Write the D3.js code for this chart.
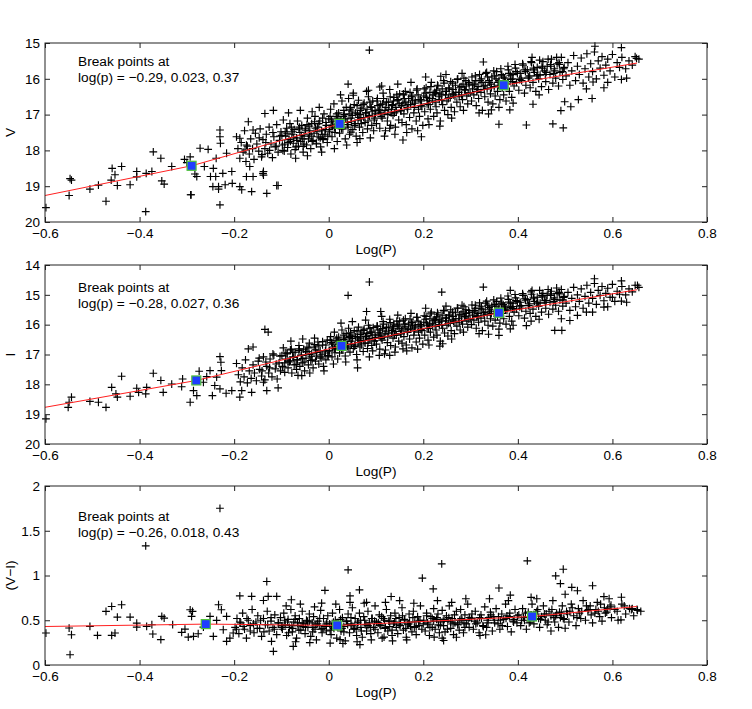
<!DOCTYPE html>
<html>
<head>
    <meta charset="utf-8">
    <title>Period-luminosity break points</title>
    <script src="https://cdn.jsdelivr.net/npm/d3@7"></script>
    <style>
        body {
            margin: 0;
            padding: 0;
            background-color: white;
        }

        svg text {
            font-family: "Liberation Sans", Arial, sans-serif;
            fill: black;
        }

        .tick text {
            font-size: 13.5px;
        }

        .note, .axis-label {
            font-size: 13.7px;
        }
    </style>
</head>
<body>
    <div id="chart"></div>

    <script>
        // ---- data: [log(P), value] ----
        const vPoints = [
            [-0.598,19.6],[-0.549,19.26],[-0.547,18.79],[-0.544,18.83],[-0.505,19.08],[-0.487,18.97],[-0.471,19.42],[-0.458,18.50],
            [-0.452,18.68],[-0.46,18.83],[-0.447,18.98],[-0.438,18.45],[-0.42,18.96],[-0.406,18.59],[-0.406,18.74],[-0.387,19.71],
            [-0.386,18.64],[-0.374,18.59],[-0.371,18.04],[-0.355,18.22],[-0.353,18.85],[-0.348,18.94],[-0.332,18.45],[-0.305,18.25],
            [-0.30,18.34],[-0.293,18.18],[-0.291,19.24],[-0.283,18.66],[-0.279,18.73],[-0.272,17.94],[-0.263,18.45],[-0.255,17.97],
            [-0.250,18.73],[-0.244,18.50],[-0.238,18.22],[-0.23,17.43],[-0.23,17.62],[-0.229,17.80],[-0.233,19.01],[-0.233,19.08],
            [-0.23,19.52],[-0.224,18.64],[-0.219,18.96],[-0.205,18.59],[-0.216,18.08],[-0.188,19.01],[-0.184,19.10],[-0.174,18.73],
            [-0.163,19.15],[-0.131,19.20],[-0.107,18.98],[-0.138,18.59],[-0.138,18.69],[-0.170,17.20],[-0.16,17.43],[-0.135,16.97],
            [-0.117,16.88],[-0.174,17.85],[-0.188,17.66],[-0.177,17.99],[-0.167,18.45],[-0.292,19.24],[-0.239,18.73],[-0.245,19.01],
            [-0.204,18.92],[-0.16,18.73],[-0.139,18.64],[-0.110,18.98],[-0.054,17.89],[-0.026,17.80],[-0.012,17.67],
            [0.041,16.15],[0.084,16.32],[0.108,16.23],[0.052,16.46],[0.129,17.38],[0.066,17.67],[0.047,17.49],[0.086,15.2],
            [0.563,15.09],[0.619,15.13],[0.327,15.53],[0.651,15.43],[0.432,16.71],[0.36,17.27],[0.418,17.29],[0.474,17.26],
            [0.496,17.37],[0.491,16.89],[0.499,16.64],[0.512,16.78],[0.528,16.58],[0.557,16.55],[0.582,16.25],[0.619,16.02],
            [0.383,16.87],[0.344,16.87],[0.196,17.62],[0.157,17.71],[0.237,15.93],[0.559,16.09],
            [-0.195,17.62],[-0.192,17.95],[-0.188,18.22],[-0.185,17.78],[-0.181,18.05],[-0.178,17.45],[-0.175,18.31],[-0.172,17.88],
            [-0.168,18.10],[-0.165,17.68],[-0.161,17.95],[-0.158,18.25],[-0.155,17.52],[-0.152,17.82],[-0.148,18.02],[-0.145,17.40],
            [-0.142,18.18],[-0.139,17.70],[-0.135,17.95],[-0.132,17.55],[-0.129,18.08],[-0.126,17.35],[-0.122,17.82],[-0.119,18.20],
            [-0.116,17.62],[-0.113,17.90],[-0.11,17.28],[-0.107,18.05],[-0.104,17.72],[-0.101,17.48],
            [-0.098,17.85],[-0.096,17.15],[-0.094,18.02],[-0.091,17.60],[-0.089,17.38],[-0.087,17.92],[-0.084,17.70],[-0.082,17.25],
            [-0.08,18.10],[-0.078,17.55],[-0.075,17.80],[-0.073,17.42],[-0.071,17.98],[-0.068,17.65],[-0.066,17.18],[-0.064,17.88],
            [-0.061,17.50],[-0.059,17.75],[-0.057,17.30],[-0.054,18.05],[-0.052,17.60],[-0.05,17.40],[-0.047,17.85],[-0.045,17.10],
            [-0.043,17.68],[-0.04,17.45],[-0.038,17.95],[-0.036,17.25],[-0.033,17.72],[-0.031,17.52],[-0.029,17.05],[-0.026,17.82],
            [-0.024,17.35],[-0.022,17.62],[-0.019,17.18],[-0.017,17.90],[-0.015,17.45],[-0.012,17.70],[-0.01,16.98],[-0.008,17.55],
            [-0.005,17.30],[-0.003,17.78],[0.0,17.12],[-0.085,16.95],[-0.06,16.88],[-0.035,16.92],[-0.02,16.80],[-0.07,18.22],
            [-0.045,18.15],[-0.015,18.05],
            [0.002,17.48],[0.004,16.85],[0.007,17.62],[0.009,17.20],[0.011,16.70],[0.014,17.38],[0.016,17.05],[0.018,17.75],
            [0.021,16.95],[0.023,17.52],[0.026,17.15],[0.028,16.62],[0.03,17.40],[0.033,17.00],[0.035,17.68],[0.037,16.80],
            [0.04,17.28],[0.042,16.55],[0.044,17.55],[0.047,17.10],[0.049,16.90],[0.051,17.42],[0.054,16.72],[0.056,17.25],
            [0.058,17.60],[0.061,16.98],[0.063,16.60],[0.065,17.35],[0.068,17.12],[0.07,16.82],[0.072,17.50],[0.075,16.68],
            [0.077,17.22],[0.079,16.95],[0.082,17.40],[0.084,16.50],[0.086,17.05],[0.089,16.78],[0.091,17.30],[0.093,16.62],
            [0.096,17.15],[0.098,16.88],[0.012,17.95],[0.038,17.85],[0.06,17.78],[0.088,17.65],[0.025,16.45],[0.052,16.40],
            [0.08,16.35],[0.005,17.30],[0.045,16.85],[0.066,17.00],[0.095,17.45],
            [0.101,17.25],[0.103,16.55],[0.106,16.90],[0.108,17.38],[0.11,16.72],[0.113,17.10],[0.115,16.40],[0.117,16.98],
            [0.12,17.45],[0.122,16.65],[0.124,17.18],[0.127,16.85],[0.129,16.30],[0.131,17.30],[0.134,16.75],[0.136,17.02],
            [0.138,16.52],[0.141,17.35],[0.143,16.92],[0.145,16.60],[0.148,17.15],[0.15,16.42],[0.152,16.88],[0.155,17.22],
            [0.157,16.68],[0.159,16.98],[0.162,16.35],[0.164,17.28],[0.166,16.80],[0.169,16.55],[0.171,17.08],[0.173,16.72],
            [0.176,17.40],[0.178,16.48],[0.18,16.95],[0.183,16.62],[0.185,17.18],[0.187,16.28],[0.19,16.85],[0.192,17.05],
            [0.194,16.58],[0.197,16.78],[0.199,17.30],[0.118,17.60],[0.14,17.55],[0.165,17.50],[0.188,17.45],[0.112,16.20],
            [0.146,16.15],[0.174,16.10],[0.132,16.95],[0.158,16.45],
            [0.201,16.48],[0.203,16.92],[0.206,16.25],[0.208,16.70],[0.21,17.12],[0.213,16.55],[0.215,16.85],[0.217,16.10],
            [0.22,16.62],[0.222,17.05],[0.224,16.38],[0.227,16.78],[0.229,16.95],[0.231,16.20],[0.234,16.58],[0.236,17.18],
            [0.238,16.45],[0.241,16.72],[0.243,16.05],[0.245,16.88],[0.248,16.35],[0.25,16.62],[0.252,17.00],[0.255,16.28],
            [0.257,16.52],[0.259,16.80],[0.262,16.12],[0.264,16.45],[0.266,16.92],[0.269,16.38],[0.271,16.65],[0.273,16.00],
            [0.276,16.50],[0.278,16.78],[0.28,16.22],[0.283,16.58],[0.285,16.88],[0.287,16.30],[0.29,16.05],[0.292,16.48],
            [0.294,16.70],[0.297,16.15],[0.299,16.40],[0.212,17.28],[0.235,17.32],[0.26,17.10],[0.205,15.95],[0.248,15.88],
            [0.282,15.85],[0.226,16.40],
            [0.302,16.62],[0.305,16.18],[0.307,16.45],[0.31,15.92],[0.312,16.75],[0.315,16.30],[0.317,16.55],[0.32,16.05],
            [0.322,16.38],[0.325,16.88],[0.327,16.20],[0.33,16.50],[0.332,15.85],[0.335,16.28],[0.337,16.65],[0.34,16.10],
            [0.342,16.42],[0.345,15.95],[0.347,16.70],[0.35,16.22],[0.352,16.48],[0.355,15.80],[0.357,16.35],[0.36,16.05],
            [0.362,16.58],[0.365,15.90],[0.367,16.25],[0.37,16.45],[0.372,15.98],[0.375,16.62],[0.377,16.15],[0.38,15.75],
            [0.382,16.35],[0.385,16.02],[0.387,16.52],[0.39,15.88],[0.392,16.20],[0.395,15.70],[0.397,16.10],[0.318,16.95],
            [0.338,16.98],[0.36,16.80],[0.39,16.68],
            [0.402,16.32],[0.405,15.85],[0.408,16.05],[0.411,15.62],[0.414,16.40],[0.417,16.18],[0.42,15.75],[0.423,15.95],
            [0.426,16.25],[0.429,15.55],[0.432,16.10],[0.435,15.82],[0.438,16.35],[0.441,15.68],[0.444,16.00],[0.447,15.90],
            [0.45,16.22],[0.453,15.52],[0.456,15.78],[0.459,16.08],[0.462,15.65],[0.465,16.30],[0.468,15.88],[0.471,15.45],
            [0.474,16.12],[0.477,15.72],[0.48,15.98],[0.483,15.58],[0.486,16.20],[0.489,15.82],[0.492,15.40],[0.495,16.02],
            [0.498,15.68],[0.445,16.45],[0.43,15.40],
            [0.502,15.92],[0.506,15.55],[0.51,16.18],[0.514,15.78],[0.518,15.35],[0.522,16.05],[0.526,15.65],[0.53,15.88],
            [0.534,15.42],[0.538,16.12],[0.542,15.72],[0.546,15.30],[0.55,15.95],[0.554,15.58],[0.558,15.80],[0.562,15.25],
            [0.566,16.00],[0.57,15.50],[0.574,15.70],[0.578,15.38],[0.582,15.90],[0.586,15.62],[0.59,15.45],[0.595,15.78],
            [0.6,15.32],[0.605,15.95],[0.61,15.55],[0.615,15.68],[0.62,15.40],[0.628,15.72],[0.635,15.50],[0.642,15.62],
            [0.648,15.38],[0.656,15.45],[0.545,16.28],[0.59,16.10],[0.63,15.98],
            [-0.147,17.65],[-0.141,18.12],[-0.133,17.78],[-0.125,18.00],[-0.118,17.50],[-0.111,17.88],[-0.103,17.60],[-0.097,18.00],
            [-0.092,17.48],[-0.086,17.78],[-0.079,17.35],[-0.074,17.65],[-0.069,17.90],[-0.063,17.40],[-0.058,17.58],[-0.052,17.82],
            [-0.046,17.28],[-0.041,17.55],[-0.035,17.75],[-0.03,17.20],[-0.025,17.48],[-0.018,17.65],[-0.013,17.10],[-0.007,17.42],
            [-0.002,17.60],[0.003,17.05],[0.008,17.30],[0.013,17.50],[0.017,16.98],[0.022,17.22],[0.027,17.40],[0.032,16.88],
            [0.036,17.12],[0.041,17.35],[0.046,16.80],[0.05,17.02],[0.055,17.30],[0.06,16.75],[0.064,17.08],[0.069,17.25],
            [0.073,16.72],[0.078,16.95],[0.083,17.18],[0.087,16.65],[0.092,16.92],[0.097,17.10],
            [0.102,16.62],[0.107,16.85],[0.111,17.05],[0.116,16.55],[0.121,16.80],[0.125,17.00],[0.13,16.50],[0.135,16.72],
            [0.139,16.95],[0.144,16.45],[0.149,16.70],[0.153,16.90],[0.158,16.42],[0.163,16.65],[0.167,16.85],[0.172,16.38],
            [0.177,16.60],[0.181,16.80],[0.186,16.32],[0.191,16.58],[0.195,16.75],
            [0.202,16.28],[0.207,16.52],[0.211,16.72],[0.216,16.22],[0.221,16.45],[0.225,16.65],[0.23,16.18],[0.235,16.40],
            [0.239,16.60],[0.244,16.12],[0.249,16.35],[0.253,16.55],[0.258,16.08],[0.263,16.30],[0.267,16.50],[0.272,16.02],
            [0.277,16.25],[0.281,16.45],[0.286,15.98],[0.291,16.20],[0.295,16.40],
            [0.303,15.95],[0.308,16.15],[0.313,16.35],[0.319,15.88],[0.324,16.10],[0.329,16.30],[0.334,15.82],[0.339,16.05],
            [0.344,16.25],[0.349,15.78],[0.354,16.00],[0.359,16.18],[0.364,15.72],[0.369,15.95],[0.374,16.12],[0.379,15.65],
            [0.384,15.90],[0.389,16.08],[0.394,15.60],[0.399,15.85],
            [0.404,16.02],[0.41,15.58],[0.416,15.80],[0.422,15.98],[0.428,15.52],[0.434,15.75],[0.44,15.92],[0.446,15.48],
            [0.452,15.70],[0.458,15.88],[0.464,15.45],[0.47,15.65],[0.476,15.85],[0.482,15.40],[0.488,15.60],[0.494,15.80],
            [-0.099,17.58],[-0.093,17.82],[-0.088,17.52],[-0.081,17.75],[-0.076,17.48],[-0.067,17.72],[-0.062,17.35],[-0.055,17.68],
            [-0.049,17.45],[-0.042,17.32],[-0.037,17.60],[-0.028,17.38],[-0.021,17.25],[-0.014,17.55],[-0.006,17.22],[0.001,17.42],
            [0.006,17.15],[0.012,17.35],[0.019,17.10],[0.024,17.30],[0.031,17.05],[0.039,17.22],[0.043,16.98],[0.048,17.20],
            [0.057,16.95],[0.062,17.15],[0.067,16.88],[0.074,17.08],[0.081,16.85],[0.085,17.02],[0.09,16.80],[0.099,16.98],
            [0.104,16.75],[0.109,16.95],[0.114,16.70],[0.119,16.88],[0.126,16.65],[0.133,16.85],[0.137,16.62],[0.142,16.80],
            [0.147,16.58],[0.154,16.75],[0.16,16.55],[0.168,16.72],[0.175,16.50],[0.182,16.68],[0.189,16.45],[0.196,16.62],
            [0.204,16.40],[0.209,16.60],[0.214,16.38],[0.219,16.55],[0.228,16.32],[0.233,16.50],[0.24,16.28],[0.247,16.45],
            [0.254,16.25],[0.261,16.42],[0.268,16.18],[0.275,16.38],[0.284,16.15],[0.289,16.32],[0.296,16.10],
            [0.304,16.28],[0.311,16.05],[0.316,16.22],[0.323,16.00],[0.331,16.18],[0.336,15.95],[0.343,16.15],[0.351,15.92],
            [0.358,16.10],[0.366,15.88],[0.373,16.05],[0.381,15.85],[0.388,16.00],[0.396,15.80],
            [0.407,15.98],[0.415,15.75],[0.425,15.92],[0.433,15.70],[0.442,15.88],[0.451,15.65],[0.46,15.82],[0.469,15.60],
            [0.478,15.78],[0.487,15.55],[0.497,15.72]
        ];

        const iPoints = [
            [-0.598,19.16],[-0.551,18.77],[-0.549,18.60],[-0.544,18.43],[-0.505,18.57],[-0.487,18.60],[-0.471,18.77],[-0.459,18.10],
            [-0.45,18.32],[-0.447,18.43],[-0.438,17.73],[-0.42,18.40],[-0.406,18.13],[-0.402,18.27],[-0.385,18.10],[-0.387,18.32],
            [-0.371,17.63],[-0.355,17.87],[-0.35,18.27],[-0.332,17.99],[-0.311,18.08],[-0.309,17.82],[-0.293,18.60],[-0.286,18.21],
            [-0.279,18.38],[-0.274,17.56],[-0.265,17.93],[-0.258,17.74],[-0.251,17.54],[-0.246,18.38],[-0.241,18.04],[-0.237,17.76],
            [-0.23,17.07],[-0.228,17.26],[-0.227,17.54],[-0.23,18.15],[-0.217,18.30],[-0.205,18.21],[-0.188,18.43],[-0.184,18.21],
            [-0.17,16.81],[-0.16,16.75],[-0.135,16.16],[-0.128,16.25],[-0.107,18.12],[-0.131,18.21],[-0.138,17.93],[-0.163,18.27],
            [0.041,15.02],[0.086,14.57],[0.08,15.56],[-0.057,17.71],[0.061,17.45],
            [0.110,15.56],[0.239,14.91],[0.327,14.74],[0.384,14.85],[0.562,14.46],[0.619,14.53],[0.653,14.68],[0.36,16.36],
            [0.384,16.14],[0.418,16.03],[0.428,15.88],[0.478,16.19],[0.493,16.19],[0.492,15.80],[0.51,15.86],[0.526,15.69],
            [0.558,15.58],[0.582,15.41],[0.619,15.21],[0.6,15.08],[0.241,16.64],[0.107,17.03],[0.129,17.03],[0.157,16.81],
            [-0.195,17.30],[-0.191,17.68],[-0.187,17.92],[-0.183,17.45],[-0.179,17.75],[-0.176,17.18],[-0.172,17.95],[-0.168,17.55],
            [-0.164,17.80],[-0.16,17.35],[-0.157,17.62],[-0.153,17.88],[-0.149,17.22],[-0.146,17.50],[-0.142,17.72],[-0.138,17.08],
            [-0.135,17.85],[-0.131,17.40],[-0.127,17.62],[-0.124,17.15],[-0.12,17.75],[-0.116,17.02],[-0.113,17.48],[-0.109,17.82],
            [-0.105,17.28],[-0.102,17.55],
            [-0.098,17.40],[-0.096,16.78],[-0.093,17.60],[-0.091,17.15],[-0.088,16.95],[-0.086,17.45],[-0.083,17.25],[-0.081,16.85],
            [-0.078,17.62],[-0.076,17.08],[-0.073,17.35],[-0.071,16.92],[-0.068,17.50],[-0.066,17.18],[-0.063,16.70],[-0.061,17.40],
            [-0.058,17.02],[-0.056,17.28],[-0.053,16.82],[-0.051,17.55],[-0.048,17.12],[-0.046,16.90],[-0.043,17.35],[-0.041,16.62],
            [-0.038,17.20],[-0.036,16.98],[-0.033,17.45],[-0.031,16.75],[-0.028,17.22],[-0.026,17.05],[-0.023,16.58],[-0.021,17.32],
            [-0.018,16.88],[-0.016,17.12],[-0.013,16.68],[-0.011,17.40],[-0.008,16.95],[-0.006,17.18],[-0.003,16.52],[-0.001,17.05],
            [-0.08,16.55],[-0.055,16.48],[-0.03,16.45],[-0.065,17.70],[-0.04,17.62],[-0.01,17.55],
            [0.002,16.88],[0.004,16.40],[0.007,17.08],[0.009,16.65],[0.012,16.25],[0.014,16.82],[0.016,16.52],[0.019,17.15],
            [0.021,16.42],[0.023,16.95],[0.026,16.60],[0.028,16.18],[0.03,16.85],[0.033,16.48],[0.035,17.05],[0.037,16.30],
            [0.04,16.72],[0.042,16.12],[0.045,16.92],[0.047,16.55],[0.049,16.35],[0.052,16.80],[0.054,16.20],[0.056,16.68],
            [0.059,17.00],[0.061,16.42],[0.063,16.08],[0.066,16.75],[0.068,16.55],[0.07,16.28],[0.073,16.90],[0.075,16.15],
            [0.077,16.62],[0.08,16.38],[0.082,16.80],[0.084,16.02],[0.087,16.48],[0.089,16.25],[0.091,16.70],[0.094,16.10],
            [0.096,16.55],[0.098,16.32],[0.01,17.32],[0.036,17.25],[0.06,17.18],[0.086,17.08],[0.026,15.95],[0.05,15.90],
            [0.078,15.85],[0.044,16.40],[0.067,16.45],[0.093,16.88],
            [0.101,16.65],[0.103,16.05],[0.106,16.35],[0.108,16.82],[0.11,16.18],[0.113,16.52],[0.115,15.90],[0.117,16.40],
            [0.12,16.85],[0.122,16.10],[0.124,16.60],[0.127,16.28],[0.129,15.82],[0.131,16.70],[0.134,16.20],[0.136,16.45],
            [0.138,15.98],[0.141,16.75],[0.143,16.35],[0.145,16.05],[0.148,16.55],[0.15,15.88],[0.152,16.30],[0.155,16.62],
            [0.157,16.12],[0.159,16.40],[0.162,15.80],[0.164,16.68],[0.166,16.22],[0.169,15.98],[0.171,16.48],[0.173,16.15],
            [0.176,16.78],[0.178,15.92],[0.18,16.35],[0.183,16.05],[0.185,16.58],[0.187,15.75],[0.19,16.25],[0.192,16.45],
            [0.194,16.00],[0.197,16.20],[0.199,16.65],[0.118,16.98],[0.14,16.92],[0.165,16.88],[0.188,16.82],[0.112,15.72],
            [0.146,15.68],[0.174,15.62],
            [0.201,15.92],[0.203,16.35],[0.206,15.72],[0.208,16.12],[0.21,16.52],[0.213,15.98],[0.215,16.25],[0.217,15.58],
            [0.22,16.05],[0.222,16.42],[0.224,15.82],[0.227,16.18],[0.229,16.35],[0.231,15.65],[0.234,16.00],[0.236,16.55],
            [0.238,15.88],[0.241,16.12],[0.243,15.52],[0.245,16.28],[0.248,15.78],[0.25,16.02],[0.252,16.38],[0.255,15.70],
            [0.257,15.95],[0.259,16.20],[0.262,15.58],[0.264,15.88],[0.266,16.30],[0.269,15.80],[0.271,16.05],[0.273,15.45],
            [0.276,15.92],[0.278,16.18],[0.28,15.65],[0.283,15.98],[0.285,16.25],[0.287,15.72],[0.29,15.50],[0.292,15.88],
            [0.294,16.08],[0.297,15.60],[0.299,15.82],[0.212,16.68],[0.235,16.72],[0.26,16.48],[0.205,15.45],[0.248,15.38],
            [0.282,15.35],[0.226,15.85],
            [0.302,16.00],[0.305,15.58],[0.307,15.85],[0.31,15.35],[0.312,16.12],[0.315,15.70],[0.317,15.92],[0.32,15.45],
            [0.322,15.78],[0.325,16.20],[0.327,15.60],[0.33,15.88],[0.332,15.28],[0.335,15.68],[0.337,16.02],[0.34,15.50],
            [0.342,15.80],[0.345,15.38],[0.347,16.05],[0.35,15.62],[0.352,15.85],[0.355,15.22],[0.357,15.72],[0.36,15.45],
            [0.362,15.95],[0.365,15.30],[0.367,15.62],[0.37,15.80],[0.372,15.38],[0.375,15.98],[0.377,15.52],[0.38,15.15],
            [0.382,15.72],[0.385,15.42],[0.387,15.88],[0.39,15.28],[0.392,15.58],[0.395,15.10],[0.397,15.48],[0.318,16.30],
            [0.338,16.32],[0.36,16.15],[0.39,16.02],
            [0.402,15.70],[0.405,15.25],[0.408,15.45],[0.411,15.02],[0.414,15.78],[0.417,15.55],[0.42,15.15],[0.423,15.35],
            [0.426,15.62],[0.429,14.98],[0.432,15.48],[0.435,15.22],[0.438,15.72],[0.441,15.08],[0.444,15.38],[0.447,15.28],
            [0.45,15.58],[0.453,14.95],[0.456,15.18],[0.459,15.45],[0.462,15.02],[0.465,15.65],[0.468,15.25],[0.471,14.88],
            [0.474,15.48],[0.477,15.10],[0.48,15.35],[0.483,14.95],[0.486,15.55],[0.489,15.18],[0.492,14.82],[0.495,15.38],
            [0.498,15.05],[0.445,15.82],[0.43,14.85],
            [0.502,15.28],[0.506,14.92],[0.51,15.52],[0.514,15.12],[0.518,14.75],[0.522,15.40],[0.526,15.00],[0.53,15.22],
            [0.534,14.80],[0.538,15.45],[0.542,15.05],[0.546,14.68],[0.55,15.28],[0.554,14.92],[0.558,15.12],[0.562,14.62],
            [0.566,15.32],[0.57,14.85],[0.574,15.02],[0.578,14.72],[0.582,15.20],[0.586,14.95],[0.59,14.78],[0.595,15.08],
            [0.6,14.65],[0.605,15.22],[0.61,14.88],[0.615,14.98],[0.62,14.72],[0.628,15.00],[0.635,14.80],[0.642,14.90],
            [0.648,14.68],[0.656,14.75],[0.545,15.58],[0.59,15.40],[0.63,15.25],
            [-0.147,17.12],[-0.141,17.55],[-0.133,17.25],[-0.125,17.45],[-0.118,16.98],[-0.111,17.32],[-0.103,17.06],[-0.097,17.42],
            [-0.092,16.95],[-0.086,17.22],[-0.079,16.82],[-0.074,17.10],[-0.069,17.33],[-0.063,16.86],[-0.058,17.03],[-0.052,17.25],
            [-0.046,16.75],[-0.041,17.00],[-0.035,17.18],[-0.03,16.67],[-0.025,16.93],[-0.018,17.08],[-0.013,16.57],[-0.007,16.88],
            [-0.002,17.04],[0.003,16.52],[0.008,16.75],[0.013,16.94],[0.017,16.45],[0.022,16.67],[0.027,16.84],[0.032,16.35],
            [0.036,16.57],[0.041,16.78],[0.046,16.27],[0.05,16.47],[0.055,16.73],[0.06,16.22],[0.064,16.52],[0.069,16.68],
            [0.073,16.19],[0.078,16.40],[0.083,16.62],[0.087,16.12],[0.092,16.37],[0.097,16.54],
            [0.102,16.05],[0.107,16.27],[0.111,16.46],[0.116,15.98],[0.121,16.22],[0.125,16.41],[0.13,15.93],[0.135,16.14],
            [0.139,16.36],[0.144,15.88],[0.149,16.12],[0.153,16.31],[0.158,15.85],[0.163,16.07],[0.167,16.26],[0.172,15.81],
            [0.177,16.02],[0.181,16.21],[0.186,15.75],[0.191,16.00],[0.195,16.16],
            [0.202,15.70],[0.207,15.94],[0.211,16.13],[0.216,15.64],[0.221,15.87],[0.225,16.06],[0.23,15.60],[0.235,15.82],
            [0.239,16.01],[0.244,15.54],[0.249,15.77],[0.253,15.96],[0.258,15.50],[0.263,15.72],[0.267,15.91],[0.272,15.44],
            [0.277,15.67],[0.281,15.86],[0.286,15.40],[0.291,15.62],[0.295,15.81],
            [0.303,15.34],[0.308,15.53],[0.313,15.73],[0.319,15.27],[0.324,15.48],[0.329,15.68],[0.334,15.21],[0.339,15.43],
            [0.344,15.63],[0.349,15.17],[0.354,15.38],[0.359,15.56],[0.364,15.11],[0.369,15.33],[0.374,15.50],[0.379,15.04],
            [0.384,15.28],[0.389,15.46],[0.394,14.99],[0.399,15.23],
            [0.404,15.40],[0.41,14.96],[0.416,15.18],[0.422,15.36],[0.428,14.90],[0.434,15.13],[0.44,15.30],[0.446,14.85],
            [0.452,15.07],[0.458,15.25],[0.464,14.82],[0.47,15.02],[0.476,15.22],[0.482,14.77],[0.488,14.97],[0.494,15.17],
            [-0.099,17.04],[-0.093,17.28],[-0.088,16.98],[-0.081,17.21],[-0.076,16.94],[-0.067,17.18],[-0.062,16.81],[-0.055,17.14],
            [-0.049,16.91],[-0.042,16.78],[-0.037,17.06],[-0.028,16.84],[-0.021,16.71],[-0.014,17.01],[-0.006,16.68],[0.001,16.88],
            [0.006,16.60],[0.012,16.80],[0.019,16.55],[0.024,16.75],[0.031,16.50],[0.039,16.67],[0.043,16.43],[0.048,16.65],
            [0.057,16.40],[0.062,16.60],[0.067,16.33],[0.074,16.53],[0.081,16.30],[0.085,16.47],[0.09,16.25],[0.099,16.43],
            [0.104,16.18],[0.109,16.38],[0.114,16.13],[0.119,16.31],[0.126,16.08],[0.133,16.28],[0.137,16.05],[0.142,16.23],
            [0.147,16.01],[0.154,16.18],[0.16,15.98],[0.168,16.15],[0.175,15.93],[0.182,16.11],[0.189,15.88],[0.196,16.05],
            [0.204,15.82],[0.209,16.02],[0.214,15.80],[0.219,15.97],[0.228,15.74],[0.233,15.92],[0.24,15.70],[0.247,15.87],
            [0.254,15.67],[0.261,15.84],[0.268,15.60],[0.275,15.80],[0.284,15.57],[0.289,15.74],[0.296,15.52],
            [0.304,15.68],[0.311,15.45],[0.316,15.62],[0.323,15.40],[0.331,15.58],[0.336,15.35],[0.343,15.55],[0.351,15.32],
            [0.358,15.50],[0.366,15.27],[0.373,15.44],[0.381,15.24],[0.388,15.39],[0.396,15.19],
            [0.407,15.36],[0.415,15.13],[0.425,15.30],[0.433,15.08],[0.442,15.25],[0.451,15.02],[0.46,15.19],[0.469,14.97],
            [0.478,15.15],[0.487,14.92],[0.497,15.09]
        ];

        const viPoints = [
            [-0.598,0.357],[-0.549,0.413],[-0.547,0.115],[-0.544,0.338],[-0.505,0.431],[-0.489,0.331],[-0.471,0.599],[-0.459,0.654],
            [-0.459,0.331],[-0.452,0.357],[-0.447,0.535],[-0.438,0.673],[-0.42,0.535],[-0.406,0.468],[-0.406,0.424],[-0.387,1.331],
            [-0.385,0.431],[-0.374,0.45],[-0.372,0.346],[-0.353,0.543],[-0.348,0.524],[-0.355,0.283],[-0.330,0.45],[-0.311,0.364],
            [-0.304,0.401],[-0.293,0.617],[-0.290,0.543],[-0.288,0.599],[-0.297,0.312],[-0.286,0.320],[-0.276,0.349],[-0.265,0.424],
            [-0.251,0.543],[-0.244,0.320],[-0.237,0.498],[-0.233,0.673],[-0.23,1.751],[-0.227,0.617],[-0.223,0.394],[-0.216,0.543],
            [-0.209,0.301],[-0.216,0.264],[-0.202,0.357],[-0.188,0.773],[-0.163,0.766],[-0.131,0.933],[-0.138,0.721],[-0.128,0.766],
            [-0.11,0.766],[-0.117,0.152],[-0.121,0.264],[-0.075,0.208],[-0.079,0.729],[-0.008,0.833],[-0.015,0.691],[0.003,0.245],
            [0.024,0.283],[0.041,1.063],[0.045,0.773],[0.065,0.840],[0.066,0.227],[0.080,0.699],
            [0.239,1.13],[0.198,0.970],[0.221,0.851],[0.132,0.765],[0.420,1.163],[0.480,0.996],[0.496,1.07],[0.490,0.91],
            [0.36,0.86],[0.384,0.78],[0.428,0.756],[0.514,0.867],[0.526,0.83],[0.558,0.886],[0.5,0.79],[0.582,0.764],
            [0.619,0.757],[0.5,0.411],[0.618,0.505],[0.332,0.338],[0.243,0.274],[0.223,0.312],[0.117,0.312],[0.653,0.61],
            [0.642,0.63],[0.597,0.67],
            [-0.198,0.42],[-0.194,0.52],[-0.19,0.35],[-0.186,0.47],[-0.182,0.58],[-0.178,0.40],[-0.174,0.30],[-0.17,0.50],
            [-0.166,0.44],[-0.162,0.62],[-0.158,0.36],[-0.154,0.48],[-0.15,0.55],[-0.146,0.41],[-0.142,0.32],[-0.138,0.52],
            [-0.134,0.45],[-0.13,0.60],[-0.126,0.38],[-0.122,0.49],[-0.118,0.42],[-0.114,0.56],[-0.11,0.34],[-0.106,0.47],
            [-0.102,0.53],
            [-0.098,0.40],[-0.095,0.58],[-0.092,0.45],[-0.089,0.33],[-0.086,0.51],[-0.083,0.42],[-0.08,0.62],[-0.077,0.37],
            [-0.074,0.48],[-0.071,0.55],[-0.068,0.30],[-0.065,0.44],[-0.062,0.52],[-0.059,0.39],[-0.056,0.60],[-0.053,0.46],
            [-0.05,0.35],[-0.047,0.50],[-0.044,0.42],[-0.041,0.57],[-0.038,0.32],[-0.035,0.47],[-0.032,0.54],[-0.029,0.40],
            [-0.026,0.28],[-0.023,0.49],[-0.02,0.44],[-0.017,0.61],[-0.014,0.36],[-0.011,0.52],[-0.008,0.43],[-0.005,0.38],
            [-0.002,0.55],[-0.09,0.66],[-0.06,0.68],[-0.03,0.65],[-0.07,0.26],[-0.04,0.25],
            [0.002,0.46],[0.005,0.34],[0.008,0.58],[0.011,0.41],[0.014,0.50],[0.017,0.30],[0.02,0.45],[0.023,0.62],
            [0.026,0.38],[0.029,0.53],[0.032,0.43],[0.035,0.27],[0.038,0.49],[0.041,0.57],[0.044,0.36],[0.047,0.46],
            [0.05,0.64],[0.053,0.40],[0.056,0.52],[0.059,0.33],[0.062,0.48],[0.065,0.58],[0.068,0.42],[0.071,0.31],
            [0.074,0.54],[0.077,0.45],[0.08,0.38],[0.083,0.60],[0.086,0.47],[0.089,0.35],[0.092,0.52],[0.095,0.42],
            [0.098,0.66],[0.015,0.68],[0.045,0.70],[0.075,0.69],[0.03,0.24],[0.06,0.26],[0.09,0.28],
            [0.101,0.48],[0.104,0.36],[0.107,0.56],[0.11,0.44],[0.113,0.30],[0.116,0.52],[0.119,0.41],[0.122,0.62],
            [0.125,0.38],[0.128,0.49],[0.131,0.55],[0.134,0.33],[0.137,0.46],[0.14,0.58],[0.143,0.42],[0.146,0.35],
            [0.149,0.53],[0.152,0.47],[0.155,0.64],[0.158,0.39],[0.161,0.50],[0.164,0.31],[0.167,0.45],[0.17,0.57],
            [0.173,0.43],[0.176,0.37],[0.179,0.60],[0.182,0.48],[0.185,0.34],[0.188,0.54],[0.191,0.44],[0.194,0.66],
            [0.197,0.40],[0.12,0.70],[0.15,0.72],[0.18,0.69],[0.135,0.27],[0.165,0.28],
            [0.201,0.50],[0.204,0.38],[0.207,0.58],[0.21,0.45],[0.213,0.33],[0.216,0.54],[0.219,0.42],[0.222,0.63],
            [0.225,0.40],[0.228,0.51],[0.231,0.57],[0.234,0.36],[0.237,0.48],[0.24,0.61],[0.243,0.44],[0.246,0.37],
            [0.249,0.55],[0.252,0.49],[0.255,0.66],[0.258,0.41],[0.261,0.52],[0.264,0.34],[0.267,0.47],[0.27,0.60],
            [0.273,0.45],[0.276,0.39],[0.279,0.62],[0.282,0.50],[0.285,0.36],[0.288,0.56],[0.291,0.46],[0.294,0.68],
            [0.297,0.42],[0.23,0.72],[0.26,0.70],[0.29,0.74],[0.24,0.30],[0.27,0.31],
            [0.302,0.52],[0.306,0.40],[0.31,0.60],[0.314,0.47],[0.318,0.36],[0.322,0.56],[0.326,0.44],[0.33,0.65],
            [0.334,0.42],[0.338,0.53],[0.342,0.59],[0.346,0.38],[0.35,0.50],[0.354,0.63],[0.358,0.46],[0.362,0.40],
            [0.366,0.57],[0.37,0.51],[0.374,0.68],[0.378,0.43],[0.382,0.54],[0.386,0.37],[0.39,0.49],[0.394,0.62],
            [0.398,0.47],[0.34,0.74],[0.38,0.72],[0.32,0.33],
            [0.402,0.56],[0.406,0.44],[0.41,0.63],[0.414,0.50],[0.418,0.40],[0.422,0.59],[0.426,0.48],[0.43,0.68],
            [0.434,0.46],[0.438,0.57],[0.442,0.62],[0.446,0.42],[0.45,0.54],[0.454,0.66],[0.458,0.50],[0.462,0.45],
            [0.466,0.60],[0.47,0.55],[0.474,0.72],[0.478,0.48],[0.482,0.58],[0.486,0.42],[0.49,0.53],[0.494,0.66],
            [0.498,0.51],[0.44,0.74],[0.47,0.38],
            [0.503,0.60],[0.508,0.48],[0.513,0.68],[0.518,0.55],[0.523,0.44],[0.528,0.63],[0.533,0.52],[0.538,0.72],
            [0.543,0.50],[0.548,0.61],[0.553,0.66],[0.558,0.47],[0.563,0.58],[0.568,0.70],[0.573,0.54],[0.578,0.49],
            [0.583,0.64],[0.588,0.59],[0.593,0.74],[0.598,0.53],[0.605,0.62],[0.612,0.50],[0.62,0.68],[0.628,0.57],
            [0.636,0.63],[0.645,0.55],[0.652,0.62],[0.66,0.60],
            [-0.195,0.40],[-0.188,0.48],[-0.181,0.43],[-0.173,0.52],[-0.166,0.38],[-0.159,0.46],[-0.151,0.41],[-0.144,0.50],
            [-0.137,0.37],[-0.129,0.45],[-0.122,0.53],[-0.115,0.40],[-0.107,0.47],[-0.1,0.42],[-0.093,0.50],[-0.085,0.36],
            [-0.078,0.44],[-0.071,0.51],[-0.063,0.39],[-0.056,0.47],[-0.049,0.42],[-0.041,0.49],[-0.034,0.37],[-0.027,0.45],
            [-0.019,0.52],[-0.012,0.41],[-0.005,0.46],
            [0.003,0.39],[0.01,0.48],[0.018,0.43],[0.025,0.51],[0.032,0.37],[0.04,0.45],[0.047,0.53],[0.054,0.41],
            [0.061,0.47],[0.069,0.38],[0.076,0.50],[0.083,0.44],[0.091,0.52],[0.098,0.40],
            [0.105,0.47],[0.112,0.54],[0.12,0.42],[0.127,0.49],[0.134,0.39],[0.142,0.52],[0.149,0.45],[0.156,0.55],
            [0.163,0.41],[0.171,0.48],[0.178,0.53],[0.185,0.43],[0.193,0.50],[0.2,0.46],
            [0.207,0.55],[0.214,0.42],[0.222,0.49],[0.229,0.53],[0.236,0.44],[0.244,0.51],[0.251,0.40],[0.258,0.48],
            [0.266,0.56],[0.273,0.45],[0.28,0.52],[0.288,0.42],[0.295,0.50],
            [0.303,0.57],[0.311,0.46],[0.319,0.53],[0.327,0.43],[0.335,0.50],[0.343,0.56],[0.351,0.47],[0.359,0.54],
            [0.367,0.44],[0.375,0.52],[0.383,0.58],[0.391,0.48],[0.399,0.55],
            [0.408,0.50],[0.416,0.58],[0.424,0.47],[0.432,0.54],[0.44,0.60],[0.448,0.51],[0.456,0.57],[0.464,0.48],
            [0.472,0.62],[0.48,0.55],[0.488,0.59],[0.496,0.52],
            [0.505,0.57],[0.515,0.64],[0.525,0.53],[0.535,0.60],[0.545,0.66],[0.555,0.56],[0.565,0.62],[0.575,0.68],
            [0.585,0.58],[0.595,0.65],[0.61,0.60],[0.625,0.66],[0.64,0.62],
            [-0.097,0.44],[-0.087,0.48],[-0.076,0.41],[-0.066,0.47],[-0.054,0.43],[-0.045,0.49],[-0.033,0.42],[-0.024,0.46],
            [-0.016,0.40],[-0.004,0.48],[0.006,0.43],[0.016,0.47],[0.028,0.41],[0.037,0.49],[0.049,0.44],[0.058,0.40],
            [0.067,0.50],[0.079,0.45],[0.088,0.42],[0.097,0.49],[0.108,0.45],[0.118,0.50],[0.129,0.43],[0.139,0.48],
            [0.151,0.44],[0.16,0.51],[0.169,0.46],[0.181,0.42],[0.19,0.49],[0.209,0.47],[0.219,0.52],[0.232,0.45],
            [0.242,0.49],[0.254,0.53],[0.263,0.46],[0.277,0.50],[0.286,0.47],[0.298,0.53],[0.309,0.49],[0.323,0.52],
            [0.337,0.47],[0.348,0.54],[0.363,0.50],[0.377,0.55],[0.392,0.51],[0.412,0.53],[0.428,0.56],[0.444,0.52],
            [0.46,0.57],[0.476,0.53],[0.492,0.58],[0.51,0.60],[0.53,0.58],[0.55,0.62],[0.57,0.60],[0.59,0.63]
        ];

        // piecewise fits: first and last entries are the ends, the middle ones are the break points
        const vFit = [[-0.6,19.26],[-0.29,18.43],[0.023,17.26],[0.37,16.18],[0.652,15.56]];
        const iFit = [[-0.6,18.77],[-0.28,17.87],[0.027,16.71],[0.36,15.60],[0.652,14.83]];
        const viFit = [[-0.6,0.43],[-0.26,0.457],[0.018,0.442],[0.43,0.542],[0.652,0.654]];

        const xTicks = [-0.6, -0.4, -0.2, 0, 0.2, 0.4, 0.6, 0.8];
        const vTicks = [15, 16, 17, 18, 19, 20];
        const iTicks = [14, 15, 16, 17, 18, 19, 20];
        const viTicks = [0, 0.5, 1, 1.5, 2];

        const panelLabels = ["V", "I", "(V\u2212I)"];
        const breakNotes = [
            "log(p) = \u22120.29, 0.023, 0.37",
            "log(p) = \u22120.28, 0.027, 0.36",
            "log(p) = \u22120.26, 0.018, 0.43"
        ];

        const panels = [
            { points: vPoints, fit: vFit, ticks: vTicks, domain: [15, 20], top: 43, noteY: 66 },
            { points: iPoints, fit: iFit, ticks: iTicks, domain: [14, 20], top: 265, noteY: 292 },
            { points: viPoints, fit: viFit, ticks: viTicks, domain: [2, 0], top: 486, noteY: 521 }
        ];

        const W = 752, H = 709;
        const left = 45, right = 707, plotH = 179;
        const fmt = d3.format("~g");

        const svg = d3.select("#chart")
            .append("svg")
            .attr("width", W)
            .attr("height", H);

        const xScale = d3.scaleLinear()
            .domain([-0.6, 0.8])
            .range([left, right]);

        panels.forEach(function (p, k) {
            const bottom = p.top + plotH;
            const yScale = d3.scaleLinear()
                .domain(p.domain)
                .range([p.top, bottom]);

            const g = svg.append("g");

            // plus markers
            g.selectAll(".pt")
                .data(p.points)
                .enter()
                .append("path")
                .attr("class", "pt")
                .attr("transform", d => `translate(${xScale(d[0])},${yScale(d[1])})`)
                .attr("d", "M-3.9,0H3.9M0,-3.9V3.9")
                .attr("stroke", "#000")
                .attr("stroke-width", 1.15)
                .attr("fill", "none");

            // fitted line
            g.append("path")
                .datum(p.fit)
                .attr("d", d3.line().x(d => xScale(d[0])).y(d => yScale(d[1])))
                .attr("fill", "none")
                .attr("stroke", "#ff2020")
                .attr("stroke-width", 1);

            // break points
            g.selectAll(".bp")
                .data(p.fit.slice(1, -1))
                .enter()
                .append("rect")
                .attr("class", "bp")
                .attr("x", d => xScale(d[0]) - 4.5)
                .attr("y", d => yScale(d[1]) - 4.5)
                .attr("width", 9)
                .attr("height", 9)
                .attr("fill", "#1f3dff")
                .attr("stroke", "#4fc23a")
                .attr("stroke-width", 1.2);

            // axes, ticks pointing inward on all four sides
            g.append("g")
                .attr("transform", `translate(0,${bottom})`)
                .call(d3.axisBottom(xScale).tickValues(xTicks).tickFormat(fmt).tickSize(-5).tickPadding(6))
                .call(a => a.select(".domain").remove());
            g.append("g")
                .attr("transform", `translate(0,${p.top})`)
                .call(d3.axisTop(xScale).tickValues(xTicks).tickFormat("").tickSize(-5))
                .call(a => a.select(".domain").remove());
            g.append("g")
                .attr("transform", `translate(${left},0)`)
                .call(d3.axisLeft(yScale).tickValues(p.ticks).tickFormat(fmt).tickSize(-5).tickPadding(5))
                .call(a => a.select(".domain").remove());
            g.append("g")
                .attr("transform", `translate(${right},0)`)
                .call(d3.axisRight(yScale).tickValues(p.ticks).tickFormat("").tickSize(-5))
                .call(a => a.select(".domain").remove());

            g.selectAll(".tick line").attr("stroke", "#222");
            g.selectAll(".tick text").attr("fill", "black").style("font-family", "'Liberation Sans', Arial, sans-serif");

            g.append("rect")
                .attr("x", left)
                .attr("y", p.top)
                .attr("width", right - left)
                .attr("height", plotH)
                .attr("fill", "none")
                .attr("stroke", "#222")
                .attr("stroke-width", 1);

            g.append("text")
                .attr("class", "axis-label")
                .attr("x", (left + right) / 2)
                .attr("y", bottom + 32)
                .attr("text-anchor", "middle")
                .text("Log(P)");

            g.append("text")
                .attr("class", "axis-label")
                .attr("transform", `translate(15,${p.top + plotH / 2}) rotate(-90)`)
                .attr("text-anchor", "middle")
                .text(panelLabels[k]);

            g.append("text")
                .attr("class", "note")
                .attr("x", 78)
                .attr("y", p.noteY)
                .text("Break points at");
            g.append("text")
                .attr("class", "note")
                .attr("x", 78)
                .attr("y", p.noteY + 16)
                .text(breakNotes[k]);
        });
    </script>
</body>
</html>
